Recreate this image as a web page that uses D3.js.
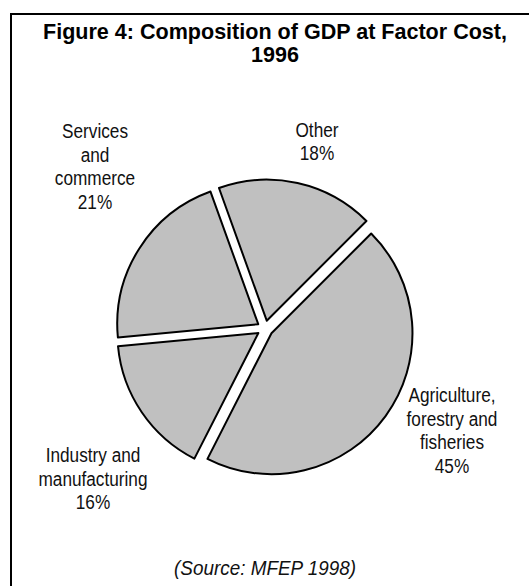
<!DOCTYPE html>
<html>
<head>
<meta charset="utf-8">
<script src="https://cdn.jsdelivr.net/npm/d3@7"></script>
<style>
  body { margin: 0; background: #fff; }
  svg { display: block; }
</style>
</head>
<body>
<div id="chart"></div>
<script>
// data
const sectors = ["Agriculture, forestry and fisheries", "Industry and manufacturing", "Services and commerce", "Other"];
const shares = [45, 16, 21, 18];
const labelLines = [
  ["Agriculture,", "forestry and", "fisheries", "45%"],
  ["Industry and", "manufacturing", "16%"],
  ["Services", "and", "commerce", "21%"],
  ["Other", "18%"]
];
const titleLines = ["Figure 4: Composition of GDP at Factor Cost,", "1996"];
const sourceNote = "(Source: MFEP 1998)";

const W = 529, H = 586;
const font = "'Liberation Sans Narrow', 'Arial Narrow', 'Liberation Sans', Arial, sans-serif";

const svg = d3.select("#chart").append("svg")
  .attr("width", W).attr("height", H)
  .style("font-family", font);

// no narrow face installed: squeeze each line horizontally
function squeeze(sel, k) {
  sel.each(function() {
    const len = this.getComputedTextLength();
    d3.select(this).attr("textLength", len * k).attr("lengthAdjust", "spacingAndGlyphs");
  });
}

// frame (only top and left edges fall inside the picture)
svg.append("rect")
  .attr("x", 11).attr("y", 14)
  .attr("width", W + 20).attr("height", H + 20)
  .attr("fill", "none").attr("stroke", "#000").attr("stroke-width", 2);

const title = svg.append("g")
  .style("font-size", "21.5px").style("font-weight", "bold");
titleLines.forEach((t, i) => {
  title.append("text")
    .attr("x", 275).attr("y", 39 + i * 23)
    .attr("text-anchor", "middle")
    .text(t);
});
// first line is 464px wide in the original
const titleK = 464 / title.select("text").node().getComputedTextLength();
squeeze(title.selectAll("text"), titleK);

// pie
const cx = 265, cy = 328.5, radius = 141, explode = 8;
const data = sectors.map((s, i) => ({ sector: s, value: shares[i], lines: labelLines[i] }));

const pie = d3.pie().value(d => d.value).sort(null)
  .startAngle(Math.PI / 4).endAngle(Math.PI / 4 + 2 * Math.PI);
const arc = d3.arc().innerRadius(0).outerRadius(radius);
const arcs = pie(data);

const g = svg.append("g").attr("transform", `translate(${cx},${cy})`);

g.selectAll("path.slice")
  .data(arcs)
  .join("path")
  .attr("class", "slice")
  .attr("d", arc)
  .attr("transform", d => {
    const a = (d.startAngle + d.endAngle) / 2;
    return `translate(${explode * Math.sin(a)},${-explode * Math.cos(a)})`;
  })
  .attr("fill", "#c0c0c0")
  .attr("stroke", "#000")
  .attr("stroke-width", 2)
  .attr("stroke-linejoin", "round");

// label anchors relative to pie centre (hand placed, like the original)
const labelOffset = {
  "Agriculture, forestry and fisheries": [187, 102],
  "Industry and manufacturing": [-172, 150],
  "Services and commerce": [-170, -162],
  "Other": [52, -187]
};
const lineH = 23.5;

const labels = g.append("g")
  .style("font-size", "20px")
  .attr("fill", "#111");

arcs.forEach(d => {
  const [dx, dy] = labelOffset[d.data.sector];
  const n = d.data.lines.length;
  d.data.lines.forEach((line, i) => {
    labels.append("text")
      .attr("text-anchor", "middle")
      .attr("x", dx)
      .attr("y", dy + (i - (n - 1) / 2) * lineH + 7)
      .text(line);
  });
});
squeeze(labels.selectAll("text"), 0.86);

const src = svg.append("text")
  .attr("x", 265).attr("y", 575)
  .attr("text-anchor", "middle")
  .style("font-size", "20px").style("font-style", "italic")
  .attr("fill", "#111")
  .text(sourceNote);
squeeze(src, 182 / src.node().getComputedTextLength());
</script>
</body>
</html>
